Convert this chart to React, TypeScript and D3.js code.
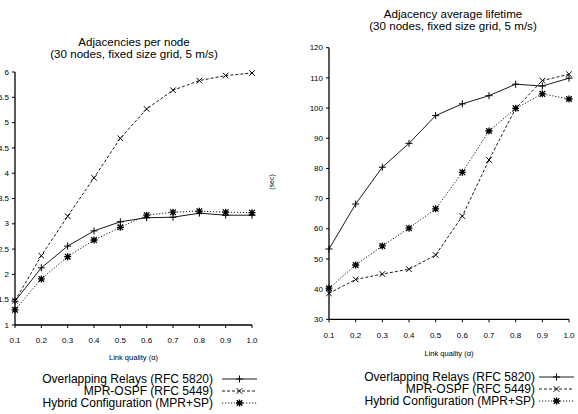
import React from 'react';
import * as d3 from 'd3';

const QUALITY = [0.1, 0.2, 0.3, 0.4, 0.5, 0.6, 0.7, 0.8, 0.9, 1.0];

const SERIES_NAMES = [
  'Overlapping Relays (RFC 5820)',
  'MPR-OSPF (RFC 5449)',
  'Hybrid Configuration (MPR+SP)',
];

// Adjacencies per node
const ADJ_OR = [1.47, 2.13, 2.56, 2.86, 3.04, 3.12, 3.13, 3.21, 3.17, 3.17];
const ADJ_MPR = [1.48, 2.37, 3.15, 3.91, 4.69, 5.27, 5.64, 5.83, 5.93, 5.98];
const ADJ_HYB = [1.3, 1.91, 2.35, 2.68, 2.93, 3.17, 3.23, 3.25, 3.23, 3.22];

// Adjacency average lifetime (sec)
const LIFE_OR = [53.3, 68.2, 80.4, 88.3, 97.5, 101.4, 104.1, 107.9, 107.3, 109.9];
const LIFE_MPR = [38.6, 43.2, 45.0, 46.6, 51.3, 64.2, 82.8, 99.9, 109.1, 111.2];
const LIFE_HYB = [40.3, 48.0, 54.3, 60.2, 66.6, 78.7, 92.4, 99.9, 104.7, 103.0];

const ADJ_TICKS = [1, 1.5, 2, 2.5, 3, 3.5, 4, 4.5, 5, 5.5, 6];
const LIFE_TICKS = [30, 40, 50, 60, 70, 80, 90, 100, 110, 120];

const FONT = '"Liberation Sans", Arial, Helvetica, sans-serif';
const DASHES = ['none', '3,2', '1.2,1.8'];
const MARKERS = ['plus', 'cross', 'star'];

function Marker({ kind, x, y }: { kind: string; x: number; y: number }) {
  const p = 3.5;
  const c = 2.8;
  const plus = `M${x - p},${y}H${x + p}M${x},${y - p}V${y + p}`;
  const cross = `M${x - c},${y - c}L${x + c},${y + c}M${x - c},${y + c}L${x + c},${y - c}`;
  const d = kind === 'plus' ? plus : kind === 'cross' ? cross : plus + cross;
  return <path d={d} stroke="#000" strokeWidth={kind === 'star' ? 1.3 : 1} fill="none" />;
}

interface PanelProps {
  series: number[][];
  domain: [number, number];
  ticks: number[];
  xRange: [number, number];
  yRange: [number, number];
  title: string[];
  titleX: number;
  titleY: number;
  tickLabelY: number;
  axisLabelY: number;
  yLabel?: { x: number; y: number; text: string };
  legend: { textX: number; y: number; lineX: [number, number] };
}

function Panel(props: PanelProps) {
  const { series, domain, ticks, xRange, yRange, title, legend } = props;
  const x = d3.scaleLinear().domain([0.1, 1.0]).range(xRange);
  const y = d3.scaleLinear().domain(domain).range(yRange);
  const line = d3
    .line<number>()
    .x((_, i) => x(QUALITY[i]))
    .y((d) => y(d));
  const fmtY = (v: number) => (Number.isInteger(v) ? String(v) : v.toFixed(1));

  return (
    <g fontFamily={FONT}>
      {title.map((t, i) => (
        <text key={t} x={props.titleX} y={props.titleY + i * 12} textAnchor="middle" fontSize={11.6}>
          {t}
        </text>
      ))}

      {/* axes */}
      <line x1={xRange[0]} x2={xRange[1]} y1={yRange[0]} y2={yRange[0]} stroke="#000" strokeWidth={1.3} />
      <line x1={xRange[0]} x2={xRange[0]} y1={yRange[0]} y2={yRange[1]} stroke="#000" strokeWidth={1.3} />
      {ticks.map((t) => (
        <g key={t}>
          <line x1={xRange[0] - 3} x2={xRange[0]} y1={y(t)} y2={y(t)} stroke="#000" />
          <text x={xRange[0] - 6} y={y(t)} dy="0.33em" textAnchor="end" fontSize={8}>
            {fmtY(t)}
          </text>
        </g>
      ))}
      {QUALITY.map((q) => (
        <g key={q}>
          <line x1={x(q)} x2={x(q)} y1={yRange[0]} y2={yRange[0] + 3} stroke="#000" />
          <text x={x(q)} y={props.tickLabelY} dy="0.33em" textAnchor="middle" fontSize={8}>
            {q.toFixed(1)}
          </text>
        </g>
      ))}
      <text x={(xRange[0] + xRange[1]) / 2} y={props.axisLabelY} dy="0.33em" textAnchor="middle" fontSize={7.5}>
        Link quality (α)
      </text>
      {props.yLabel && (
        <text
          transform={`translate(${props.yLabel.x},${props.yLabel.y}) rotate(-90)`}
          textAnchor="middle"
          dy="0.33em"
          fontSize={7}
        >
          {props.yLabel.text}
        </text>
      )}

      {/* series */}
      {series.map((s, k) => (
        <g key={k}>
          <path d={line(s) ?? ''} fill="none" stroke="#000" strokeWidth={0.9} strokeDasharray={DASHES[k]} />
          {s.map((v, i) => (
            <Marker key={i} kind={MARKERS[k]} x={x(QUALITY[i])} y={y(v)} />
          ))}
        </g>
      ))}

      {/* legend */}
      {SERIES_NAMES.map((name, k) => {
        const ly = legend.y + k * 12;
        return (
          <g key={name}>
            <text x={legend.textX} y={ly} dy="0.35em" textAnchor="end" fontSize={12}>
              {name}
            </text>
            <line
              x1={legend.lineX[0]}
              x2={legend.lineX[1]}
              y1={ly}
              y2={ly}
              stroke="#000"
              strokeWidth={0.9}
              strokeDasharray={DASHES[k]}
            />
            <Marker kind={MARKERS[k]} x={(legend.lineX[0] + legend.lineX[1]) / 2} y={ly} />
          </g>
        );
      })}
    </g>
  );
}

export default function App() {
  return (
    <svg
      width={578}
      height={414}
      style={{ position: 'absolute', left: 0, top: 0, background: '#fff' }}
    >
      <rect width={578} height={414} fill="#fff" />
      <Panel
        series={[ADJ_OR, ADJ_MPR, ADJ_HYB]}
        domain={[1, 6]}
        ticks={ADJ_TICKS}
        xRange={[15, 252]}
        yRange={[325, 72]}
        title={['Adjacencies per node', '(30 nodes, fixed size grid, 5 m/s)']}
        titleX={134}
        titleY={46}
        tickLabelY={340}
        axisLabelY={358}
        legend={{ textX: 213, y: 379, lineX: [222, 257] }}
      />
      <Panel
        series={[LIFE_OR, LIFE_MPR, LIFE_HYB]}
        domain={[30, 120]}
        ticks={LIFE_TICKS}
        xRange={[329, 569]}
        yRange={[319.3, 47.7]}
        title={['Adjacency average lifetime', '(30 nodes, fixed size grid, 5 m/s)']}
        titleX={453}
        titleY={18}
        tickLabelY={335}
        axisLabelY={354}
        yLabel={{ x: 272, y: 182, text: '(sec)' }}
        legend={{ textX: 535, y: 377, lineX: [539, 574] }}
      />
    </svg>
  );
}
